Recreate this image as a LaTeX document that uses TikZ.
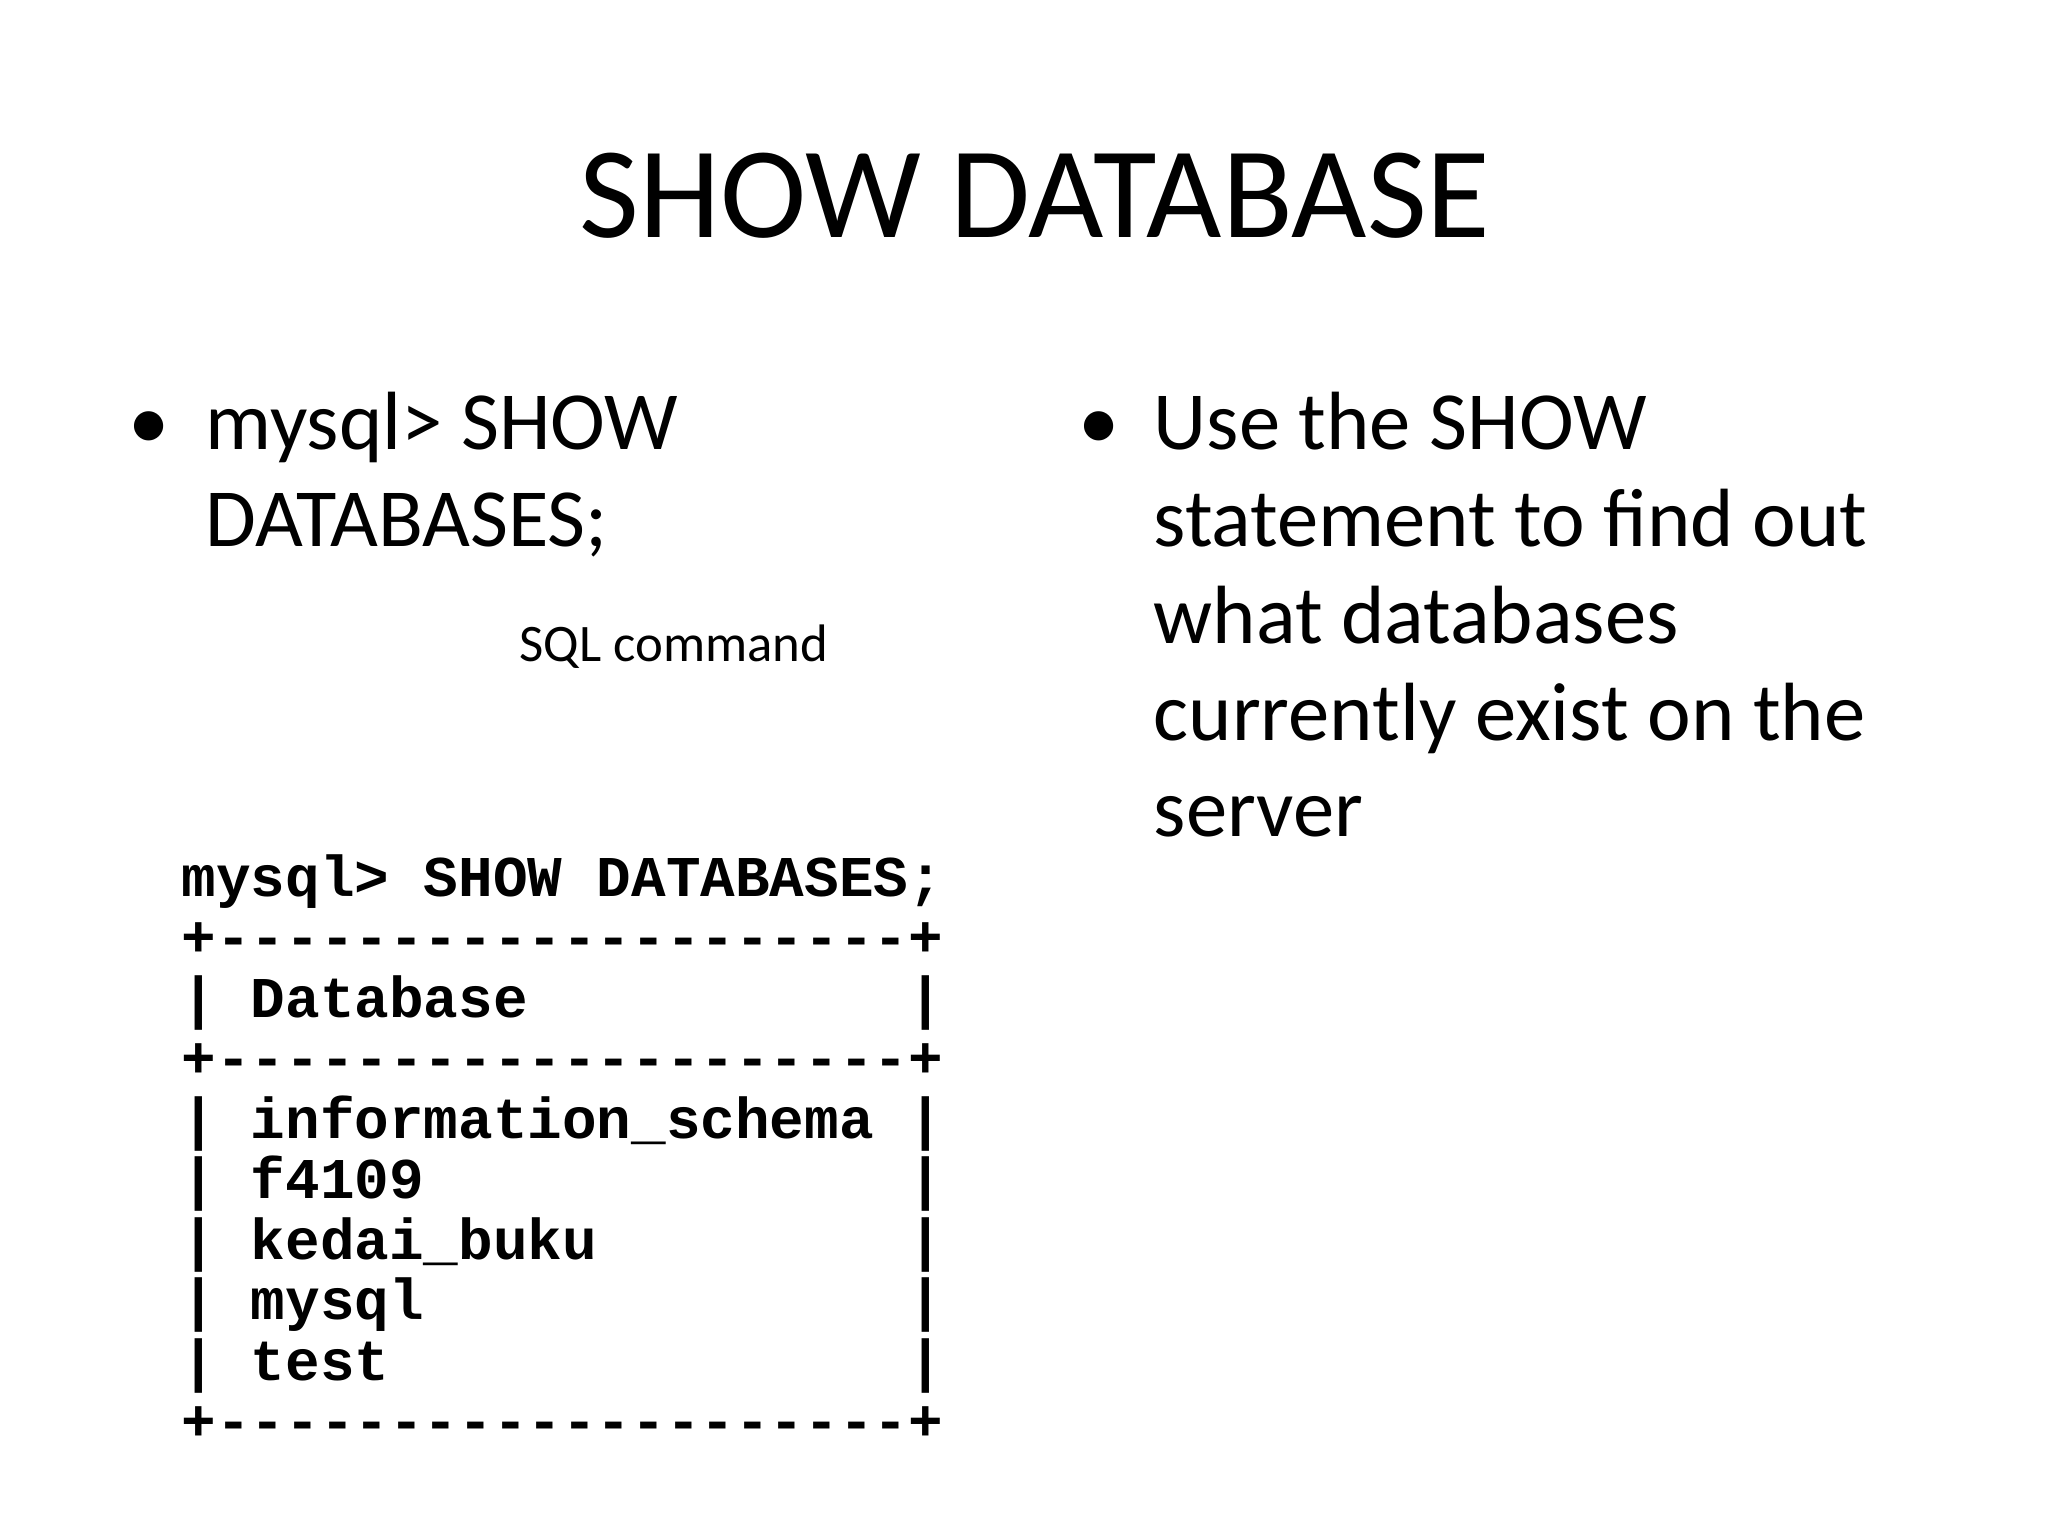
\documentclass[tikz,border=0pt]{standalone}
\usepackage{fontspec}
\setmainfont{Carlito}
\setmonofont{Liberation Mono}
\begin{document}
\begin{tikzpicture}[x=0.01cm,y=-0.01cm,
  txt/.style={anchor=base west,inner sep=0pt,font=\fontsize{23.5}{28}\selectfont},
  term/.style={anchor=base west,inner sep=0pt,font=\fontsize{16.4}{18}\selectfont\ttfamily\bfseries}]
\useasboundingbox[fill=white] (0,0) rectangle (2048,1536);
\node[inner sep=0pt,font=\fontsize{37}{44}\selectfont] (title) at (1035,196) {SHOW DATABASE};
\node[txt] (b1) at (128,449) {•};
\node[txt] (l1a) at (205,449) {mysql> SHOW};
\node[txt] (l1b) at (205,546) {DATABASES;};
\node[anchor=base west,inner sep=0pt,font=\fontsize{15}{18}\selectfont] (sql) at (519,661) {SQL command};
\node[txt] (b2) at (1078,449) {•};
\node[txt] (r1) at (1153,449) {Use the SHOW};
\node[txt] (r2) at (1153,546) {statement to find out};
\node[txt] (r3) at (1153,643) {what databases};
\node[txt] (r4) at (1153,740) {currently exist on the};
\node[txt] (r5) at (1153,836) {server};
\foreach \i/\t in {0/{mysql> SHOW DATABASES;},
  1/{+--------------------+},
  2/{|~Database~~~~~~~~~~~|},
  3/{+--------------------+},
  4/{|~information\_schema~|},
  5/{|~f4109~~~~~~~~~~~~~~|},
  6/{|~kedai\_buku~~~~~~~~~|},
  7/{|~mysql~~~~~~~~~~~~~~|},
  8/{|~test~~~~~~~~~~~~~~~|},
  9/{+--------------------+}}
  \node[term] (t\i) at (181,896+60.5*\i) {\t};
\end{tikzpicture}
\end{document}
